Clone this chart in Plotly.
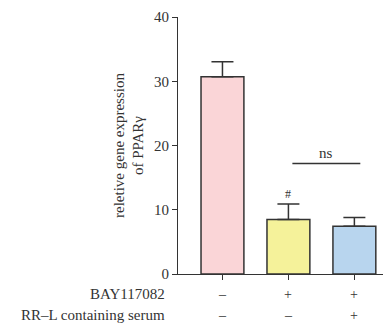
import plotly.graph_objects as go

# Bar data
groups = ["Control", "BAY117082", "BAY117082 + RR-L"]
means = [30.7, 8.5, 7.45]
errors = [2.35, 2.4, 1.35]
colors = ["#FAD5D7", "#F5F29A", "#B8D5EE"]

# Treatment rows under the x axis
row_names = ["BAY117082", "RR\u2013L containing serum"]
row_marks = [["\u2013", "+", "+"], ["\u2013", "\u2013", "+"]]

# Significance marks
hash_y = 12.5
ns_x = [1.06, 2.09]
ns_y = 17.2

font = "Liberation Serif"
dark = "#333333"

fig = go.Figure()
fig.add_trace(go.Bar(
    x=list(range(len(groups))),
    y=means,
    width=0.65,
    marker=dict(color=colors, line=dict(color=dark, width=1.5)),
    error_y=dict(type="data", symmetric=False, array=errors,
                 arrayminus=[0] * len(errors),
                 color=dark, thickness=1.5, width=11),
    showlegend=False,
))

# significance annotations
fig.add_annotation(x=1, y=hash_y, text="#", showarrow=False,
                   font=dict(family=font, size=12, color=dark))
fig.add_shape(type="line", x0=ns_x[0], x1=ns_x[1], y0=ns_y, y1=ns_y,
              line=dict(color=dark, width=1.3))
fig.add_annotation(x=sum(ns_x) / 2, y=ns_y, text="ns", showarrow=False,
                   yanchor="bottom", yshift=0,
                   font=dict(family=font, size=15, color=dark))

# treatment table below the axis
for r, name in enumerate(row_names):
    shift = -20 - 21 * r
    fig.add_annotation(x=0, xref="paper", y=0, yref="paper", text=name,
                       xanchor="right", yanchor="middle", xshift=-11, yshift=shift,
                       showarrow=False, font=dict(family=font, size=15, color=dark))
    for i, mark in enumerate(row_marks[r]):
        fig.add_annotation(x=i, y=0, yref="paper", text=mark,
                           xanchor="center", yanchor="middle", yshift=shift,
                           showarrow=False, font=dict(family=font, size=14, color=dark))

fig.update_xaxes(range=[-0.674, 2.54], showticklabels=False,
                 tickvals=list(range(len(groups))), ticks="outside", ticklen=5,
                 tickcolor=dark, tickwidth=1.2,
                 showline=True, linecolor=dark, linewidth=1.2,
                 showgrid=False, zeroline=False)
fig.update_yaxes(range=[0, 40], tickvals=[0, 10, 20, 30, 40],
                 ticks="outside", ticklen=5, tickcolor=dark, tickwidth=1.2,
                 ticklabeloverflow="allow",
                 showline=True, linecolor=dark, linewidth=1.2,
                 showgrid=False, zeroline=False,
                 tickfont=dict(family=font, size=15, color=dark),
                 title=dict(text="reletive gene expression<br>of PPAR\u03b3",
                            font=dict(family=font, size=15, color=dark),
                            standoff=6))

# the page puts the plot 8 px in from the top-left corner
fig.update_layout(width=383, height=319,
                  margin=dict(l=170, r=1, t=7, b=53),
                  plot_bgcolor="white", paper_bgcolor="white")

fig.write_html("out.html")
